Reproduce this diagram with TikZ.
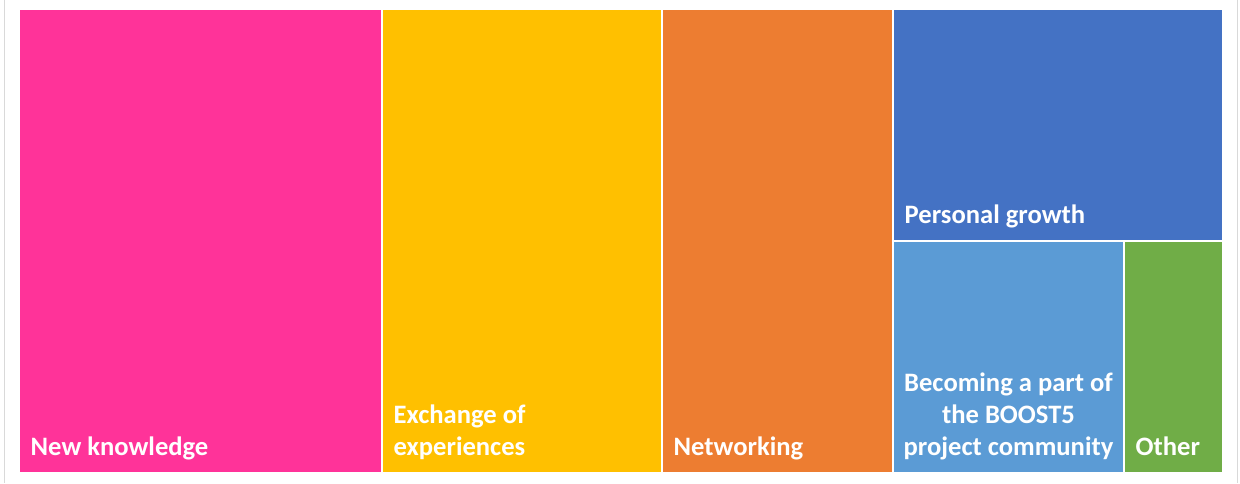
\documentclass[tikz,border=0pt]{standalone}
\usepackage{fontspec}
\setmainfont{Carlito}
\definecolor{tmpink}{RGB}{255,51,153}
\definecolor{tmyellow}{RGB}{255,192,0}
\definecolor{tmorange}{RGB}{237,125,49}
\definecolor{tmblue}{RGB}{68,114,196}
\definecolor{tmlightblue}{RGB}{91,155,213}
\definecolor{tmgreen}{RGB}{112,173,71}
\definecolor{tmframe}{RGB}{217,217,217}
\begin{document}
\begin{tikzpicture}[x=1pt,y=-1pt,
  tile/.style={anchor=north west,shape=rectangle,inner sep=0pt,outer sep=0pt},
  lab/.style={text=white,font=\fontsize{26.6}{31.8}\selectfont\bfseries,inner sep=0pt}]
\useasboundingbox (0,0) rectangle (1240,483);
\draw[tmframe,line width=1pt] (4.5,0) -- (4.5,483);
\draw[tmframe,line width=1pt] (1237.5,0) -- (1237.5,483);
\node (t1) at (20,9.5) [tile,fill=tmpink,minimum width=361pt,minimum height=462pt] {};
\node (t2) at (383,9.5) [tile,fill=tmyellow,minimum width=278pt,minimum height=462pt] {};
\node (t3) at (663,9.5) [tile,fill=tmorange,minimum width=229pt,minimum height=462pt] {};
\node (t4) at (894,9.5) [tile,fill=tmblue,minimum width=328pt,minimum height=230pt] {};
\node (t5) at (894,241.5) [tile,fill=tmlightblue,minimum width=229pt,minimum height=230pt] {};
\node (t6) at (1125,241.5) [tile,fill=tmgreen,minimum width=97pt,minimum height=230pt] {};
\node (l1) at ([xshift=10.5pt,yshift=16.5pt]t1.south west) [lab,anchor=base west] {New knowledge};
\node (l2) at ([xshift=10.5pt,yshift=16.5pt]t2.south west) [lab,anchor=base west,align=left] {Exchange of\\experiences};
\node (l3) at ([xshift=10.5pt,yshift=16.5pt]t3.south west) [lab,anchor=base west] {Networking};
\node (l4) at ([xshift=10.5pt,yshift=16pt]t4.south west) [lab,anchor=base west] {Personal growth};
\node (l5) at ([yshift=16pt]t5.south) [lab,anchor=base,align=center] {Becoming a part of\\the BOOST5\\project community};
\node (l6) at ([xshift=10.5pt,yshift=16pt]t6.south west) [lab,anchor=base west] {Other};
\end{tikzpicture}
\end{document}
